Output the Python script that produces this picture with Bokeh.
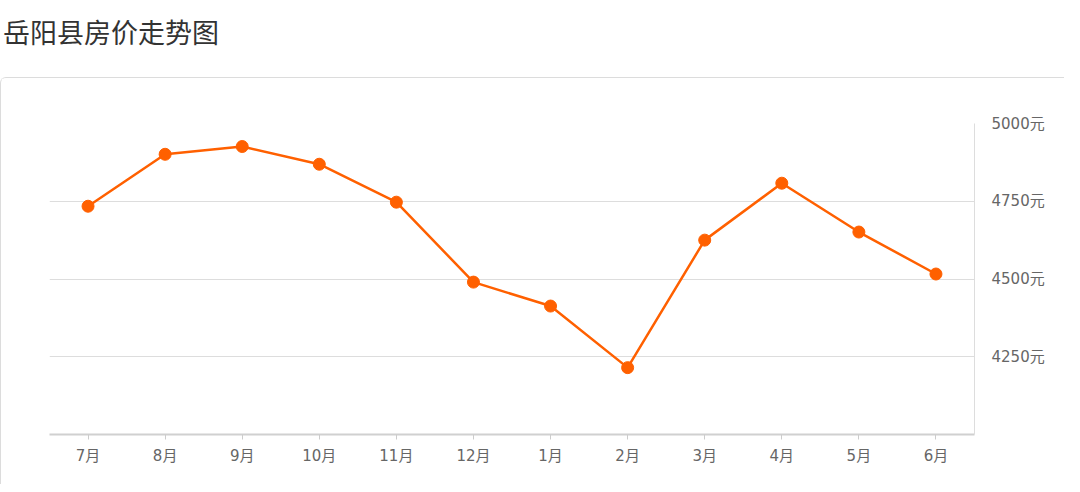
from bokeh.plotting import figure
from bokeh.models import Div, FactorRange, Range1d, LinearAxis, FixedTicker, CustomJSTickFormatter
from bokeh.layouts import column
from bokeh.embed import file_html
from bokeh.resources import INLINE

title_text = "岳阳县房价走势图"
months = ["7月", "8月", "9月", "10月", "11月", "12月", "1月", "2月", "3月", "4月", "5月", "6月"]
prices = [4734, 4901, 4926, 4869, 4747, 4490, 4413, 4215, 4625, 4808, 4651, 4516]
y_ticks = [4250, 4500, 4750, 5000]
unit = "元"

FONT = "DejaVu Sans, Noto Sans CJK SC"

div = Div(text='<div style="padding-top:12px;margin-left:-2px;font-family:\'Noto Sans CJK SC\',serif;'
               'font-size:27px;color:#333333;line-height:30px;">%s</div>' % title_text,
          width=1064, height=67)

p = figure(width=1064, height=407, output_backend="svg", toolbar_location=None,
           x_range=FactorRange(*months, range_padding=0), y_range=Range1d(4000, 5000),
           y_axis_location=None, min_border_left=48, min_border_right=91,
           min_border_top=45, min_border_bottom=51)
p.styles = {"border-top": "1px solid #dcdcdc", "border-left": "1px solid #dcdcdc",
            "border-top-left-radius": "6px"}
p.outline_line_color = None
p.xgrid.grid_line_color = None
p.ygrid.grid_line_color = "#dddddd"
p.ygrid.ticker = FixedTicker(ticks=y_ticks)

xa = p.xaxis[0]
xa.axis_line_color = "#d0d0d0"
xa.axis_line_width = 2
xa.major_tick_line_color = "#cccccc"
xa.major_tick_in = 0
xa.major_tick_out = 5
xa.minor_tick_line_color = None
xa.major_label_text_font = FONT
xa.major_label_text_font_size = "15px"
xa.major_label_text_color = "#666666"
xa.major_label_standoff = 7

ya = LinearAxis(ticker=FixedTicker(ticks=y_ticks),
                formatter=CustomJSTickFormatter(code="return tick + '%s';" % unit))
ya.axis_line_color = "#dddddd"
ya.axis_line_width = 1
ya.major_tick_line_color = None
ya.minor_tick_line_color = None
ya.major_label_text_font = FONT
ya.major_label_text_font_size = "15px"
ya.major_label_text_color = "#666666"
ya.major_label_standoff = 11
p.add_layout(ya, "right")

p.line(months, prices, line_color="#FF6000", line_width=2.5)
p.scatter(months, prices, size=12, fill_color="#FF6000", line_color="#FF6000")

layout = column(div, p, spacing=0)
open("out.html", "w").write(file_html(layout, INLINE))
